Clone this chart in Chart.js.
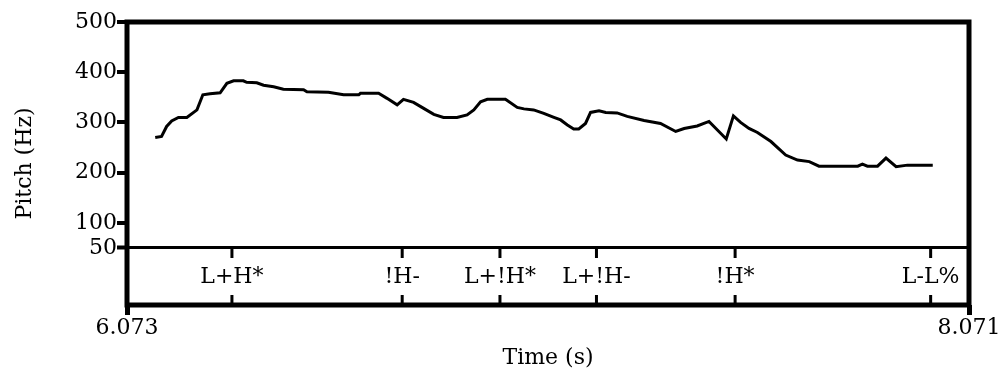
<!DOCTYPE html>
<html>
<head>
<meta charset="utf-8">
<script src="https://cdn.jsdelivr.net/npm/chart.js@4"></script>
<style>
  html, body { margin: 0; padding: 0; background: #fff; }
</style>
</head>
<body>
<canvas id="pitchChart" width="1005" height="376"></canvas>
<script>
// 基频曲线数据（时间 s / 音高 Hz）
const times = [6.140, 6.155, 6.167, 6.179, 6.195, 6.215, 6.239, 6.253, 6.270, 6.294,
  6.310, 6.326, 6.349, 6.357, 6.381, 6.397, 6.421, 6.444, 6.492, 6.500,
  6.551, 6.587, 6.623, 6.627, 6.670, 6.690, 6.714, 6.729, 6.753, 6.777,
  6.801, 6.824, 6.856, 6.880, 6.896, 6.912, 6.928, 6.971, 6.999, 7.015,
  7.038, 7.062, 7.086, 7.102, 7.118, 7.133, 7.145, 7.161, 7.173, 7.193,
  7.209, 7.236, 7.260, 7.300, 7.339, 7.375, 7.395, 7.426, 7.454, 7.474,
  7.495, 7.512, 7.529, 7.549, 7.569, 7.601, 7.636, 7.664, 7.692, 7.715,
  7.807, 7.818, 7.830, 7.854, 7.874, 7.898, 7.925, 7.985];
const pitch = [270, 272, 292, 303, 310, 310, 325, 355, 357, 359,
  378, 383, 383, 380, 379, 374, 371, 366, 365, 361,
  360, 355, 355, 358, 358, 348, 335, 346, 340, 328,
  316, 310, 310, 315, 325, 341, 346, 346, 330, 327,
  325, 318, 310, 305, 295, 287, 287, 298, 320, 323,
  320, 319, 312, 304, 298, 282, 288, 293, 302, 285,
  267, 313, 300, 288, 280, 262, 235, 225, 222, 213,
  213, 217, 213, 213, 229, 212, 215, 215];

// ToBI 标注层
const tierLabels = ['L+H*', '!H-', 'L+!H*', 'L+!H-', '!H*', 'L-L%'];
const tierTimes = [6.322, 6.726, 6.958, 7.187, 7.516, 7.980];

// 坐标轴刻度
const yTicks = [50, 100, 200, 300, 400, 500];
const xTicks = [6.073, 8.071];

const FONT = { family: '"DejaVu Serif", serif', size: 22 };

// 外框 + 标注层
const framePlugin = {
  id: 'frame',
  afterDraw(chart) {
    const { ctx, chartArea: a, scales } = chart;
    const sep = scales.y.getPixelForValue(50);
    ctx.save();
    ctx.strokeStyle = '#000';
    ctx.lineWidth = 5;
    ctx.strokeRect(a.left, a.top, a.right - a.left, a.bottom - a.top);

    ctx.lineWidth = 3;
    ctx.fillStyle = '#000';
    ctx.font = FONT.size + 'px ' + FONT.family;
    ctx.textAlign = 'center';
    ctx.textBaseline = 'middle';
    tierTimes.forEach((t, i) => {
      const x = scales.x.getPixelForValue(t);
      ctx.beginPath();
      ctx.moveTo(x, sep);
      ctx.lineTo(x, sep + 10);
      ctx.moveTo(x, a.bottom - 10);
      ctx.lineTo(x, a.bottom);
      ctx.stroke();
      ctx.fillText(tierLabels[i], x, (sep + a.bottom) / 2 + 1);
    });
    ctx.restore();
  }
};

new Chart(document.getElementById('pitchChart'), {
  type: 'line',
  data: {
    datasets: [{
      data: times.map((t, i) => ({ x: t, y: pitch[i] })),
      borderColor: '#000',
      borderWidth: 3,
      pointRadius: 0,
      tension: 0,
      fill: false
    }]
  },
  options: {
    responsive: false,
    animation: false,
    layout: { padding: { top: 22, right: 36, left: 0, bottom: 0 } },
    plugins: {
      legend: { display: false },
      tooltip: { enabled: false }
    },
    scales: {
      x: {
        type: 'linear',
        min: 6.073,
        max: 8.071,
        afterBuildTicks: (scale) => { scale.ticks = xTicks.map(v => ({ value: v })); },
        afterFit: (scale) => { scale.height = 71; },
        border: { display: false },
        grid: {
          drawOnChartArea: false,
          tickLength: 10,
          tickWidth: 5,
          tickColor: '#000'
        },
        ticks: {
          color: '#000',
          font: FONT,
          padding: 0,
          maxRotation: 0,
          callback: (v) => v.toFixed(3)
        },
        title: {
          display: true,
          text: 'Time (s)',
          color: '#000',
          font: FONT,
          padding: { top: 0, bottom: 5 }
        }
      },
      y: {
        min: -63.5,
        max: 500,
        afterBuildTicks: (scale) => { scale.ticks = yTicks.map(v => ({ value: v })); },
        afterFit: (scale) => { scale.width = 127; },
        border: { display: false },
        grid: {
          color: (c) => (c.tick && c.tick.value === 50 ? '#000' : 'rgba(0,0,0,0)'),
          lineWidth: (c) => (c.tick && c.tick.value === 50 ? 3 : 0),
          tickLength: 10,
          tickWidth: 4,
          tickColor: '#000'
        },
        ticks: {
          color: '#000',
          font: FONT,
          padding: 0
        },
        title: {
          display: true,
          text: 'Pitch (Hz)',
          color: '#000',
          font: FONT,
          padding: { top: 12, bottom: 0 }
        }
      }
    }
  },
  plugins: [framePlugin]
});
</script>
</body>
</html>
